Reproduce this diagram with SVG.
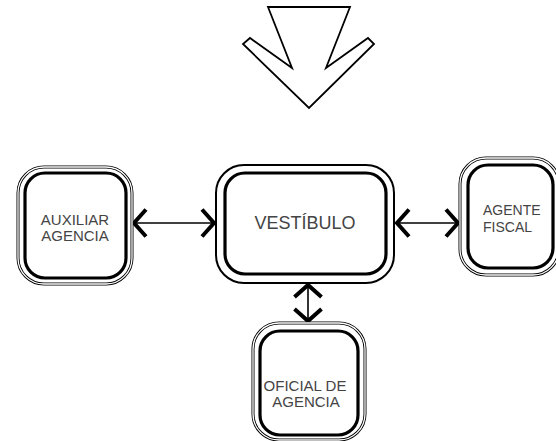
<svg xmlns="http://www.w3.org/2000/svg" width="556" height="441" viewBox="0 0 556 441">
<style>
.bg{fill:#fff}
.o{fill:none;stroke:#000;stroke-width:3}
.ow{fill:none;stroke:#fff;stroke-width:1.3}
.os{fill:none;stroke:#000;stroke-width:2}
.i{fill:#fff;stroke:#000;stroke-width:3.2}
.t{font-family:"Liberation Sans",Arial,sans-serif;font-size:15px;fill:#444}
.conn{stroke:#000;stroke-width:1.6;fill:none}
</style>
<defs>
<marker id="chev" viewBox="-17 -16 19 32" refX="0" refY="0" markerWidth="19" markerHeight="32" markerUnits="userSpaceOnUse" orient="auto-start-reverse">
<path d="M-14,-13.5 L-2,0 L-14,13.5" fill="none" stroke="#000" stroke-width="4"/>
</marker>
</defs>
<rect class="bg" x="0" y="0" width="556" height="441"/>
<g id="entrada">
<polygon points="268,7 350,7 326,68 368,38 374,44 309,108 243,44 250,38 292,68" fill="#fff" stroke="#000" stroke-width="1.8" stroke-linejoin="miter"/>
</g>
<g id="connectors">
<line class="conn" x1="132" y1="223" x2="216" y2="223" marker-start="url(#chev)" marker-end="url(#chev)"/>
<line class="conn" x1="395" y1="223" x2="460" y2="223" marker-start="url(#chev)" marker-end="url(#chev)"/>
<line class="conn" x1="308" y1="283" x2="308" y2="323" marker-start="url(#chev)" marker-end="url(#chev)"/>
</g>
<g id="auxiliar">
<rect class="o" x="18" y="167" width="114" height="117" rx="26"/>
<rect class="ow" x="18" y="167" width="114" height="117" rx="26"/>
<rect class="i" x="25" y="173" width="101" height="105" rx="20"/>
<text class="t" x="75" y="225" text-anchor="middle">AUXILIAR</text>
<text class="t" x="75" y="241" text-anchor="middle">AGENCIA</text>
</g>
<g id="vestibulo">
<rect class="os" x="216" y="165" width="178" height="118" rx="28"/>
<rect class="i" x="225" y="173" width="161" height="101" rx="20"/>
<text class="t" x="305" y="229" text-anchor="middle" style="font-size:18px">VESTÍBULO</text>
</g>
<g id="agente">
<rect class="o" x="460" y="158" width="99" height="117" rx="26"/>
<rect class="ow" x="460" y="158" width="99" height="117" rx="26"/>
<rect class="i" x="468" y="165" width="85" height="103" rx="20"/>
<text class="t" x="483" y="215" style="font-size:14px">AGENTE</text>
<text class="t" x="483" y="232" style="font-size:14px">FISCAL</text>
</g>
<g id="oficial">
<rect class="o" x="253" y="323" width="112" height="117" rx="26"/>
<rect class="ow" x="253" y="323" width="112" height="117" rx="26"/>
<rect class="i" x="260" y="331" width="98" height="104" rx="20"/>
<text class="t" x="305" y="391" text-anchor="middle">OFICIAL DE</text>
<text class="t" x="306" y="407" text-anchor="middle">AGENCIA</text>
</g>
</svg>
